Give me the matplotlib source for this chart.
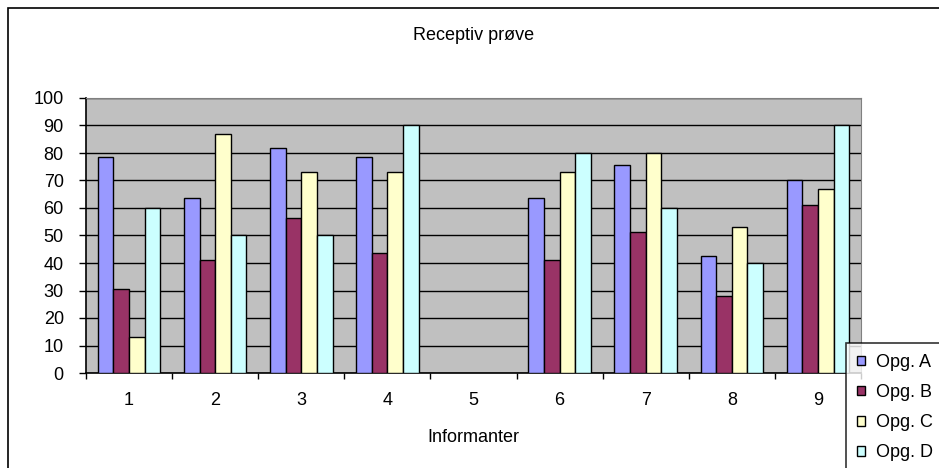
import matplotlib
matplotlib.use('Agg')
import matplotlib.pyplot as plt
import numpy as np

plt.rcParams['font.family'] = ['Liberation Sans', 'DejaVu Sans']

# data
informanter = ['1', '2', '3', '4', '5', '6', '7', '8', '9']
opg_a = [78.6, 63.8, 81.8, 78.6, np.nan, 63.8, 75.6, 42.5, 70.0]
opg_b = [30.4, 41.0, 56.3, 43.6, np.nan, 41.0, 51.2, 28.0, 61.0]
opg_c = [13.0, 86.9, 73.1, 73.1, np.nan, 73.1, 80.0, 53.2, 66.9]
opg_d = [60.0, 50.0, 50.0, 90.0, np.nan, 80.0, 60.0, 40.0, 90.0]
series_names = ['Opg. A', 'Opg. B', 'Opg. C', 'Opg. D']
colors = ['#9999FF', '#993366', '#FFFFCC', '#CCFFFF']

fs = 13

fig = plt.figure(figsize=(9.39, 4.68), dpi=100)

# outer chart border
fig.patches.append(plt.Rectangle((8/939, -0.1), 1.1, (468-8)/468 + 0.1,
                                 transform=fig.transFigure, fill=False,
                                 edgecolor='black', linewidth=1.2))

ax = fig.add_axes([86/939, (468-373)/468, (861-86)/939, (373-98)/468])
ax.set_facecolor('#C0C0C0')

x = np.arange(len(informanter))
w = 1/5.5
for i, (vals, name, c) in enumerate(zip([opg_a, opg_b, opg_c, opg_d], series_names, colors)):
    ax.bar(x + (i - 1.5)*w, vals, w, color=c, edgecolor='black', linewidth=1.0,
           label=name, zorder=3)

ax.set_xlim(-0.5, len(informanter) - 0.5)
ax.set_ylim(0, 100)
ax.set_yticks(np.arange(0, 101, 10))
ax.yaxis.grid(True, color='black', linewidth=1.0, zorder=1)
ax.set_axisbelow(True)

ax.set_xticks(x)
ax.set_xticklabels(informanter)
ax.set_xticks(np.arange(-0.5, len(informanter), 1), minor=True)
ax.tick_params(axis='x', which='major', length=0, pad=14, labelsize=fs)
ax.tick_params(axis='x', which='minor', length=4, width=1, direction='out')
ax.tick_params(axis='y', length=5, width=1, direction='out', labelsize=fs, pad=11)

for s in ['top', 'right']:
    ax.spines[s].set_color('#808080')
for s in ['left', 'bottom']:
    ax.spines[s].set_color('black')
    ax.spines[s].set_linewidth(1.2)

ax.set_xlabel('Informanter', fontsize=fs, labelpad=14)
fig.text(474/939, 1 - 35/468, 'Receptiv prøve', ha='center', va='center', fontsize=fs)

leg = fig.legend(loc='upper left', bbox_to_anchor=(846/939, 1 - 343/468),
                 frameon=True, fancybox=False, edgecolor='black', fontsize=fs,
                 handlelength=0.45, handleheight=0.45, handletextpad=0.6,
                 labelspacing=0.73, borderpad=0.6, borderaxespad=0)
leg.get_frame().set_linewidth(1.2)

fig.savefig('out.png', dpi=100)
